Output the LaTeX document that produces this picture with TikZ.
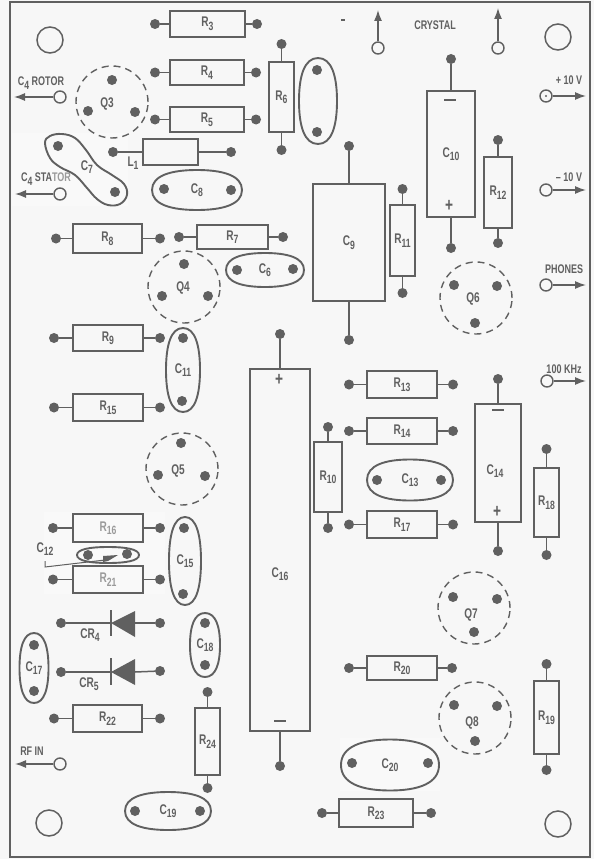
\documentclass[tikz,border=0pt]{standalone}
\usepackage{fontspec}
\setmainfont[FakeStretch=0.72]{Liberation Sans}
\usetikzlibrary{arrows.meta}
\definecolor{ink}{HTML}{606060}
\definecolor{paper}{HTML}{F7F7F7}
\definecolor{faded}{HTML}{9A9A9A}
\newcommand{\sbs}[1]{\raisebox{-3.5pt}{\fontsize{12}{12}\selectfont #1}}
\tikzset{
  every node/.style={text=ink,font=\fontsize{14}{14}\selectfont\bfseries},
  wire/.style={draw=ink,line width=1.5pt},
  body/.style={draw=ink,line width=1.9pt,rectangle,inner sep=0pt,fill=none},
  padd/.style={circle,fill=ink,minimum size=10pt,inner sep=0pt,outer sep=0pt},
  term/.style={circle,draw=ink,line width=1.4pt,minimum size=12pt,inner sep=0pt},
  hole/.style={circle,draw=ink,line width=1.5pt,minimum size=26pt,inner sep=0pt},
  capline/.style={draw=ink,line width=1.9pt},
  dashring/.style={circle,draw=ink,line width=1.4pt,dash pattern=on 7pt off 5pt,minimum size=72pt,inner sep=0pt},
  outline/.style={draw=ink,line width=1.4pt,-{Latex[length=11pt,width=8pt]}},
  txt/.style={inner sep=0pt},
  small/.style={font=\fontsize{12.5}{13}\selectfont\bfseries},
  patchfill/.style={fill=white,draw=none,opacity=.3},
}
% horizontal resistor: id, x1, x2, y1, y2, left pad x, right pad x, label
\newcommand{\hres}[8]{%
  \node[body,minimum width={#3-#2},minimum height={#5-#4}] (#1) at ({(#2+#3)/2},{(#4+#5)/2}) {#8};
  \node[padd] (#1a) at (#6,{(#4+#5)/2}) {};
  \node[padd] (#1b) at (#7,{(#4+#5)/2}) {};
  \draw[wire] (#1a) -- (#1.west);
  \draw[wire] (#1.east) -- (#1b);
}
% vertical body: id, x1, x2, y1, y2, top pad y, bottom pad y, label
\newcommand{\vres}[8]{%
  \node[body,minimum width={#3-#2},minimum height={#5-#4}] (#1) at ({(#2+#3)/2},{(#4+#5)/2}) {#8};
  \node[padd] (#1a) at ({(#2+#3)/2},#6) {};
  \node[padd] (#1b) at ({(#2+#3)/2},#7) {};
  \draw[wire] (#1a) -- (#1.north);
  \draw[wire] (#1.south) -- (#1b);
}
% oval capacitor: id, centre, half length, half width, rotation, pad1, pad2, label
\newcommand{\capo}[8]{%
  \draw[capline,shift={(#2)},rotate=#5] ({-#3},0)
    .. controls ({-#3},{-0.72*#4}) and ({-0.58*#3},{-#4}) .. (0,{-#4})
    .. controls ({0.58*#3},{-#4}) and ({#3},{-0.72*#4}) .. ({#3},0)
    .. controls ({#3},{0.72*#4}) and ({0.58*#3},{#4}) .. (0,{#4})
    .. controls ({-0.58*#3},{#4}) and ({-#3},{0.72*#4}) .. ({-#3},0) -- cycle;
  \node[padd] (#1a) at (#6) {};
  \node[padd] (#1b) at (#7) {};
  \node[txt] (#1t) at (#2) {#8};
}
% transistor: id, centre, label position, pad1, pad2, pad3, label
\newcommand{\xstor}[7]{%
  \node[dashring] (#1) at (#2) {};
  \node[padd] (#1a) at (#4) {};
  \node[padd] (#1b) at (#5) {};
  \node[padd] (#1c) at (#6) {};
  \node[txt] (#1t) at (#3) {#7};
}
% terminal with arrow: id, terminal pos, arrow end pos
\newcommand{\outterm}[3]{%
  \node[term] (#1) at (#2) {};
  \coordinate (#1e) at (#3);
  \draw[outline] (#1) -- (#1e);
}
\begin{document}
\begin{tikzpicture}[x=1pt,y=-1pt]
\useasboundingbox (0,0) rectangle (594,859);
\fill[paper] (0,0) rectangle (594,859);
\fill[patchfill] (12,133) rectangle (128,206);
\fill[patchfill] (44,512) rectangle (165,594);
\fill[patchfill] (340,738) rectangle (440,791);
\draw[ink,line width=2pt] (10,2) rectangle (590,857);
% mounting holes
\node[hole] (h1) at (50,40) {};
\node[hole] (h2) at (558,37) {};
\node[hole] (h3) at (49,823) {};
\node[hole] (h4) at (558,824) {};
% resistors top left
\hres{r3}{170}{245}{11}{37}{155}{257}{R\sbs{3}}
\hres{r4}{170}{244}{60}{85}{155}{256}{R\sbs{4}}
\hres{r5}{170}{244}{107}{132}{155}{256}{R\sbs{5}}
\vres{r6}{269}{294}{62}{132}{44}{150}{R\sbs{6}}
\hres{l1}{143}{198}{139}{165}{113}{231}{}
\node[txt] (l1t) at (133,163) {L\sbs{1}};
\capo{c8}{197,190}{45}{20}{0}{164,189}{231,190}{C\sbs{8}}
% C7
\draw[capline] plot[smooth cycle,tension=.65] coordinates {(45,143) (50,136) (62,134) (75,138) (86,150) (97,165) (112,175) (124,184) (127,195) (120,204) (108,205) (97,199) (87,188) (75,175) (60,167) (50,158)};
\node[padd] (c7a) at (58,146) {};
\node[padd] (c7b) at (115,192) {};
\node[txt] (c7t) at (87,167) {C\sbs{7}};
\xstor{q3}{112,102}{107,104}{112,80}{88,111}{135,112}{Q3}
% left terminals
\outterm{trot}{60,97}{14,97}
\node[txt,small] (trott) at (41,83) {C\sbs{4} ROTOR};
\outterm{tsta}{60,194}{15,194}
\node[txt,small] (tstat) at (46,179) {C\sbs{4} STA\textcolor{faded}{TOR}};
\outterm{trf}{60,764}{15,764}
\node[txt,small] (trft) at (32,751) {RF IN};
\hres{r8}{73}{142}{224}{253}{56}{160}{R\sbs{8}}
\hres{r7}{197}{268}{225}{249}{179}{283}{R\sbs{7}}
\capo{c6}{265,270}{39}{17}{0}{237,270}{293,269}{C\sbs{6}}
\xstor{q4}{184,287}{183,288}{184,264}{162,296}{208,296}{Q4}
\hres{r9}{73}{143}{325}{351}{54}{160}{R\sbs{9}}
\hres{r15}{73}{143}{394}{421}{54}{160}{R\sbs{15}}
\capo{c11}{183,370}{42}{17}{90}{183,338}{182,401}{C\sbs{11}}
\xstor{q5}{182,469}{178,471}{181,443}{158,475}{205,476}{Q5}
% C16
\vres{c16}{250}{310}{369}{731}{334}{766}{}
\node[txt] (c16t) at (280,574) {C\sbs{16}};
\node[txt] (c16p) at (279,380) {\fontsize{19}{19}\selectfont +};
\draw[ink,line width=1.5pt] (274,721) -- (286,721);
% C12 group
\hres{r16}{73}{143}{514}{542}{53}{160}{\textcolor{faded}{R\sbs{16}}}
\hres{r21}{73}{143}{566}{593}{53}{160}{\textcolor{faded}{R\sbs{21}}}
\capo{c12}{108,555}{31}{8}{0}{88,555}{127,554}{}
\node[txt] (c12t) at (45,549) {C\sbs{12}};
\draw[ink,line width=1pt] (45,561) -- (45,567) -- (105,560);
\fill[ink] (103,556) -- (118,555) -- (108,561) -- (103,562) -- cycle;
\capo{c15}{185,561}{44}{16}{90}{184,528}{183,594}{C\sbs{15}}
% diodes
\node[padd] (cr4l) at (61,623) {};
\node[padd] (cr4r) at (160,623) {};
\coordinate (cr4k) at (111,623);
\coordinate (cr4c) at (135,623);
\draw[wire] (cr4l) -- (cr4k);
\draw[wire] (cr4c) -- (cr4r);
\draw[ink,line width=1.6pt] (111,610) -- (111,636);
\fill[ink] (111,623) -- (135,611) -- (135,637) -- cycle;
\node[txt] (cr4t) at (90,635) {CR\sbs{4}};
\node[padd] (cr5l) at (61,672) {};
\node[padd] (cr5r) at (160,671) {};
\coordinate (cr5k) at (111,672);
\coordinate (cr5c) at (135,672);
\draw[wire] (cr5l) -- (cr5k);
\draw[wire] (cr5c) -- (cr5r);
\draw[ink,line width=1.6pt] (111,658) -- (111,685);
\fill[ink] (111,672) -- (135,659) -- (135,685) -- cycle;
\node[txt] (cr5t) at (89,684) {CR\sbs{5}};
\capo{c18}{205,645}{32}{15}{90}{205,623}{205,665}{C\sbs{18}}
\capo{c17}{34,668}{35}{14.5}{90}{34,645}{34,691}{C\sbs{17}}
\hres{r22}{73}{142}{705}{732}{54}{160}{R\sbs{22}}
\vres{r24}{195}{220}{708}{775}{692}{788}{R\sbs{24}}
\capo{c19}{168,811}{43}{19}{0}{135,811}{200,811}{C\sbs{19}}
% top
\draw[ink,line width=1.3pt] (341,20) -- (345,20);
\outterm{tx1}{378,48}{378,10}
\outterm{tx2}{498,48}{498,8}
\node[txt,small] (crys) at (435,25) {CRYSTAL};
\capo{cx}{318,101}{43}{19}{90}{317,70}{317,132}{}
\vres{c10}{427}{475}{91}{217}{59}{248}{C\sbs{10}}
\draw[ink,line width=1.5pt] (444,100) -- (456,100);
\node[txt] (c10p) at (449,206) {\fontsize{19}{19}\selectfont +};
\vres{r12}{484}{512}{157}{228}{140}{243}{R\sbs{12}}
\vres{c9}{313}{385}{184}{301}{146}{340}{C\sbs{9}}
\vres{r11}{390}{415}{205}{276}{189}{293}{R\sbs{11}}
% right terminals
\outterm{tp10}{546,96}{586,96}
\fill[ink] (tp10) circle (1.2pt);
\node[txt,small] (tp10t) at (569,80) {+ 10 V};
\outterm{tm10}{546,190}{586,190}
\node[txt,small] (tm10t) at (569,177) {– 10 V};
\outterm{tph}{546,285}{586,285}
\node[txt,small] (tpht) at (564,269) {PHONES};
\outterm{tk}{547,381}{586,381}
\node[txt,small] (tkt) at (564,369) {100 KHz};
\xstor{q6}{476,298}{473,299}{454,285}{497,286}{475,323}{Q6}
\hres{r13}{367}{437}{371}{398}{349}{453}{R\sbs{13}}
\hres{r14}{367}{437}{418}{444}{349}{453}{R\sbs{14}}
\vres{r10}{314}{342}{442}{512}{427}{528}{R\sbs{10}}
\capo{c13}{410,480}{43}{20.5}{0}{377,480}{441,480}{C\sbs{13}}
\hres{r17}{367}{437}{511}{538}{349}{453}{R\sbs{17}}
\vres{c14}{475}{521}{404}{522}{379}{551}{}
\node[txt] (c14t) at (495,471) {C\sbs{14}};
\draw[ink,line width=1.5pt] (492,410) -- (504,410);
\node[txt] (c14p) at (497,512) {\fontsize{19}{19}\selectfont +};
\vres{r18}{534}{559}{468}{537}{449}{555}{R\sbs{18}}
\xstor{q7}{474,608}{471,615}{453,597}{497,599}{474,632}{Q7}
\hres{r20}{367}{437}{656}{680}{349}{452}{R\sbs{20}}
\xstor{q8}{475,718}{472,723}{454,705}{497,706}{475,741}{Q8}
\vres{r19}{534}{559}{681}{754}{664}{770}{R\sbs{19}}
\capo{c20}{390,765}{49}{25.5}{0}{352,763}{428,763}{C\sbs{20}}
\hres{r23}{339}{413}{799}{827}{322}{431}{R\sbs{23}}
\end{tikzpicture}
\end{document}
